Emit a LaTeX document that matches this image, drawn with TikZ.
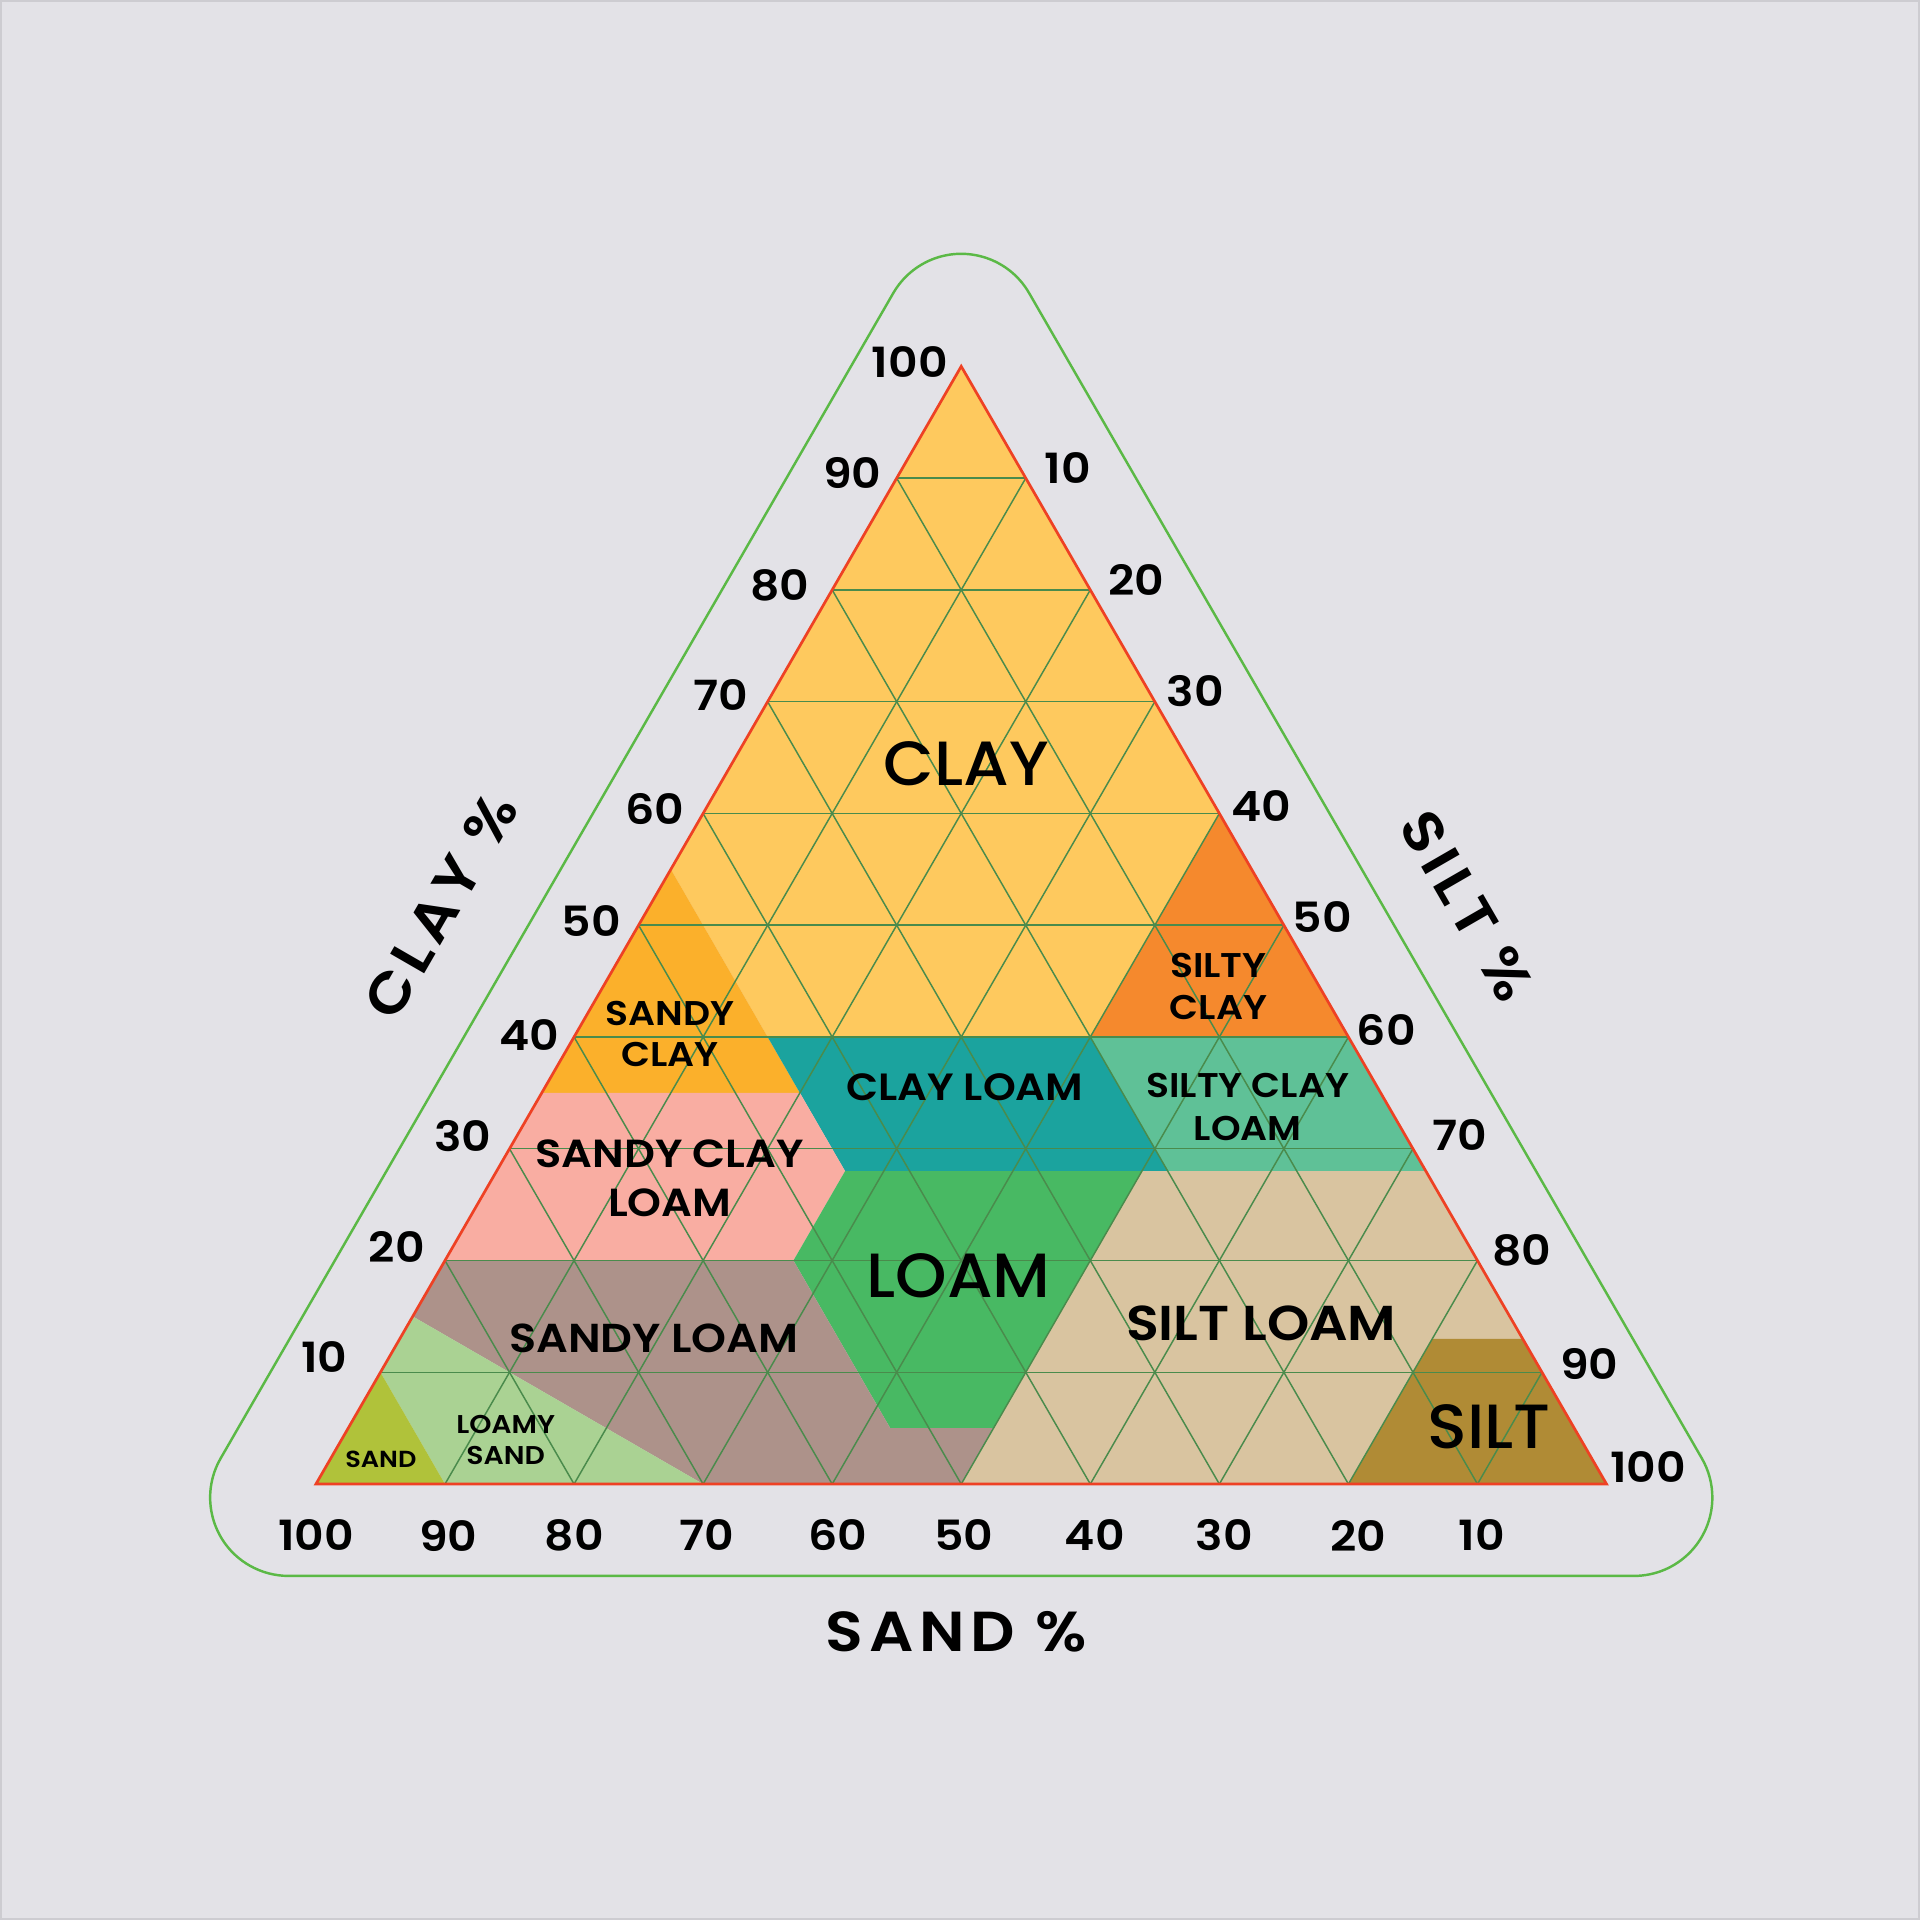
\documentclass[tikz,border=0pt]{standalone}
\usepackage{fontspec}
\setmainfont{Poppins}
\newfontfamily\psemi{Poppins SemiBold}[FakeStretch=1.1]
\newfontfamily\pmed{Poppins Medium}[FakeStretch=1.05]
\definecolor{bgc}{HTML}{E3E2E7}
\definecolor{framec}{HTML}{CDCCD1}
\definecolor{clayc}{HTML}{FEC95E}
\definecolor{sandyclayc}{HTML}{FBB02B}
\definecolor{siltyclayc}{HTML}{F5892D}
\definecolor{clayloamc}{HTML}{1BA39E}
\definecolor{siltyclayloamc}{HTML}{5FC197}
\definecolor{sandyclayloamc}{HTML}{F9ADA2}
\definecolor{loamc}{HTML}{48B963}
\definecolor{siltloamc}{HTML}{D9C4A0}
\definecolor{sandyloamc}{HTML}{AD928A}
\definecolor{loamysandc}{HTML}{AAD293}
\definecolor{sandc}{HTML}{B0C23A}
\definecolor{siltc}{HTML}{B08B35}
\definecolor{gridc}{HTML}{4A8B4C}
\definecolor{borderc}{HTML}{EE4124}
\definecolor{outc}{HTML}{5BB946}
\begin{document}
\begin{tikzpicture}[x=1pt,y=1pt,
  gridline/.style={draw=gridc, line width=1.2pt},
  border/.style={draw=borderc, line width=2.2pt, line join=miter},
  outline/.style={draw=outc, line width=2pt},
  num/.style={font=\psemi\fontsize{34}{40}\selectfont, inner sep=0pt},
  axtitle/.style={font=\psemi\fontsize{46}{52}\selectfont\addfontfeature{LetterSpace=10}, inner sep=0pt},
  biglab/.style={font=\pmed\fontsize{51}{60}\selectfont, inner sep=0pt},
  lab/.style 2 args={font=\psemi\fontsize{#1}{#2}\selectfont, align=center, inner sep=0pt}]

% background and bounding box
\fill[bgc] (0,0) rectangle (1568,1568);
\draw[framec, line width=2pt] (1,1) rectangle (1567,1567);
\useasboundingbox (0,0) rectangle (1568,1568);

% outer rounded triangle
\draw[outline] (235.6,281) -- (1334.4,281) arc[start angle=-90,end angle=30,radius=64]
  -- (840.4,1328.7) arc[start angle=30,end angle=150,radius=64]
  -- (180.2,377) arc[start angle=150,end angle=270,radius=64] -- cycle;

% ternary frame: (sand, clay)
\begin{scope}[shift={(1312,356)}, x={(-10.54pt,0pt)}, y={(-5.27pt,9.128pt)}]
  \fill[clayc] (0,100) -- (45,55) -- (45,40) -- (20,40) -- (0,60) -- cycle;
  \fill[sandyclayc] (65,35) -- (45,55) -- (45,35) -- cycle;
  \fill[siltyclayc] (0,60) -- (0,40) -- (20,40) -- cycle;
  \fill[clayloamc] (45,40) -- (20,40) -- (20,28) -- (45,28) -- cycle;
  \fill[siltyclayloamc] (20,40) -- (0,40) -- (0,28) -- (20,28) -- cycle;
  \fill[sandyclayloamc] (80,20) -- (65,35) -- (45,35) -- (45,28) -- (53,20) -- cycle;
  \fill[loamc] (45,28) -- (22,28) -- (45,5) -- (53,5) -- (53,20) -- cycle;
  \fill[siltloamc] (50,0) -- (45,5) -- (22,28) -- (0,28) -- (0,13) -- (7,13) -- (20,0) -- cycle;
  \fill[siltc] (20,0) -- (7,13) -- (0,13) -- (0,0) -- cycle;
  \fill[sandyloamc] (85,15) -- (80,20) -- (53,20) -- (53,5) -- (45,5) -- (50,0) -- (70,0) -- cycle;
  \fill[loamysandc] (90,10) -- (85,15) -- (70,0) -- (90,0) -- cycle;
  \fill[sandc] (100,0) -- (90,0) -- (90,10) -- cycle;
  % grid
  \foreach \k in {10,20,...,90} \draw[gridline] ({100-\k},\k) -- (0,\k);
  \foreach \k in {10,20,...,80} \draw[gridline] (\k,{100-\k}) -- (\k,0);
  \foreach \k in {10,20,...,90} \draw[gridline] ({100-\k},0) -- (0,{100-\k});
  % border
  \draw[border] (100,0) -- (0,0) -- (0,100) -- cycle;
\end{scope}

% clay axis numbers
\foreach \t/\px/\py in {100/743/1272, 90/696/1182, 80/637/1090, 70/589/1000, 60/535/907,
  50/483/816, 40/432/723, 30/378/640, 20/324/550, 10/265/460}
  \node[num] (cl\t) at (\px,\py) {\t};
% silt axis numbers
\foreach \t/\px/\py in {10/872/1186, 20/928/1094, 30/976/1004, 40/1030/910, 50/1080/819,
  60/1132/727, 70/1192/641, 80/1243/547, 90/1298/454, 100/1346/370}
  \node[num] (si\t) at (\px,\py) {\t};
% sand axis numbers
\foreach \t/\px in {100/258, 90/366, 80/469, 70/577, 60/684, 50/787, 40/894, 30/1000, 20/1109, 10/1210}
  \node[num] (sa\t) at (\px,314) {\t};

% axis titles
\node[axtitle] (tsand) at (781,235) {SAND \%};
\node[axtitle, rotate=60] (tclay) at (360,828) {CLAY \%};
\node[axtitle, rotate=-60] (tsilt) at (1198,828) {SILT \%};

% region labels
\node[biglab] (rclay) at (789,944) {CLAY};
\node[lab={28}{34}] (rsiltyclay) at (995,762.5) {SILTY\\CLAY};
\node[lab={28}{34}] (rsandyclay) at (547,723.5) {SANDY\\CLAY};
\node[lab={31}{36}] (rclayloam) at (788,680) {CLAY LOAM};
\node[lab={28}{35}] (rsiltyclayloam) at (1019,664) {SILTY CLAY\\LOAM};
\node[lab={32}{40}] (rsandyclayloam) at (547,606) {SANDY CLAY\\LOAM};
\node[biglab] (rloam) at (783,526) {LOAM};
\node[lab={40}{46}] (rsiltloam) at (1030,487) {SILT LOAM};
\node[lab={33}{40}] (rsandyloam) at (534,475) {SANDY LOAM};
\node[biglab] (rsilt) at (1216,403) {SILT};
\node[lab={21}{26}] (rloamysand) at (413,392) {LOAMY\\SAND};
\node[lab={19}{23}] (rsand) at (311,376) {SAND};
\end{tikzpicture}
\end{document}
